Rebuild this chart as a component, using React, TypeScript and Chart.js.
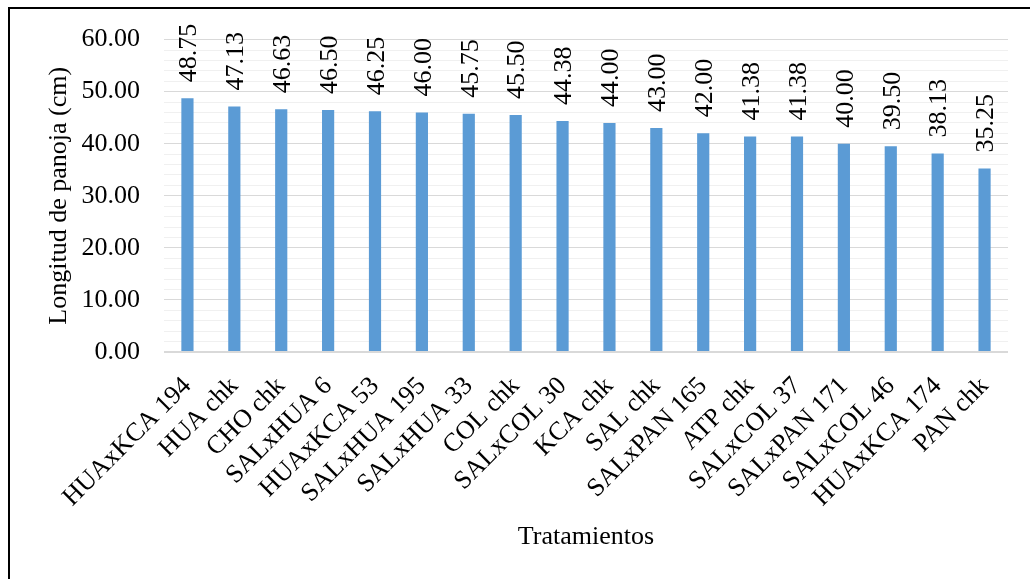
import React, { useEffect, useRef } from "react";
import { Chart, registerables } from "chart.js";

Chart.register(...registerables);

// Treatments, in the order they are plotted
const treatments = [
  "HUAxKCA 194",
  "HUA chk",
  "CHO chk",
  "SALxHUA 6",
  "HUAxKCA 53",
  "SALxHUA 195",
  "SALxHUA 33",
  "COL chk",
  "SALxCOL 30",
  "KCA chk",
  "SAL chk",
  "SALxPAN 165",
  "ATP chk",
  "SALxCOL 37",
  "SALxPAN 171",
  "SALxCOL 46",
  "HUAxKCA 174",
  "PAN chk",
];

// Panicle length (cm) per treatment
const panicleLength = [
  48.75, 47.13, 46.63, 46.5, 46.25, 46.0, 45.75, 45.5, 44.38, 44.0, 43.0, 42.0,
  41.38, 41.38, 40.0, 39.5, 38.13, 35.25,
];

// Value axis range and gridline steps
const yMin = 0;
const yMax = 60;
const minorStep = 2;
const majorStep = 10;

const yTitle = "Longitud de panoja (cm)";
const xTitle = "Tratamientos";

const W = 1030;
const H = 579;
const SERIF = "'Liberation Serif', 'Times New Roman', Times, serif";
const BAR_COLOR = "#5B9BD5";

// White page with a black frame on the left and top edges
const framePlugin = {
  id: "frame",
  beforeDraw(chart: any) {
    const { ctx } = chart;
    ctx.save();
    ctx.fillStyle = "#ffffff";
    ctx.fillRect(0, 0, chart.width, chart.height);
    ctx.fillStyle = "#000000";
    ctx.fillRect(8, 7, chart.width - 8, 2);
    ctx.fillRect(8, 7, 2, chart.height - 7);
    ctx.restore();
  },
};

// Vertical value labels above each bar
const valueLabelPlugin = {
  id: "valueLabels",
  afterDatasetsDraw(chart: any) {
    const { ctx } = chart;
    const meta = chart.getDatasetMeta(0);
    const values = chart.data.datasets[0].data as number[];
    ctx.save();
    ctx.fillStyle = "#000000";
    ctx.font = `26px ${SERIF}`;
    ctx.textAlign = "left";
    ctx.textBaseline = "middle";
    meta.data.forEach((bar: any, i: number) => {
      ctx.save();
      ctx.translate(bar.x + 2, bar.y - 16);
      ctx.rotate(-Math.PI / 2);
      ctx.fillText(values[i].toFixed(2), 0, 0);
      ctx.restore();
    });
    ctx.restore();
  },
};

export default function App() {
  const canvasRef = useRef<HTMLCanvasElement | null>(null);

  useEffect(() => {
    const canvas = canvasRef.current;
    if (!canvas) return;
    const chart = new Chart(canvas, {
      type: "bar",
      data: {
        labels: treatments,
        datasets: [
          {
            data: panicleLength,
            backgroundColor: BAR_COLOR,
            borderWidth: 0,
            categoryPercentage: 1,
            barPercentage: 0.26,
          },
        ],
      },
      options: {
        responsive: false,
        animation: false,
        devicePixelRatio: 1,
        layout: { padding: { top: 38, right: 22, bottom: 0, left: 0 } },
        plugins: {
          legend: { display: false },
          tooltip: { enabled: false },
          title: { display: false },
        },
        scales: {
          x: {
            grid: { display: false },
            border: { display: false },
            ticks: {
              color: "#000",
              font: { family: SERIF, size: 26 },
              minRotation: 45,
              maxRotation: 45,
              autoSkip: false,
              padding: 11,
            },
            title: {
              display: true,
              text: xTitle,
              color: "#000",
              font: { family: SERIF, size: 26 },
              padding: { top: 0, bottom: 26 },
            },
            afterFit(scale: any) {
              scale.height = 227;
            },
          },
          y: {
            min: yMin,
            max: yMax,
            border: { display: false },
            grid: {
              drawTicks: false,
              color: (c: any) =>
                c.tick && c.tick.value % majorStep === 0 ? "#D9D9D9" : "#F0F0F0",
              lineWidth: (c: any) => (c.tick && c.tick.value === 0 ? 2 : 1),
            },
            ticks: {
              stepSize: minorStep,
              autoSkip: false,
              color: "#000",
              font: { family: SERIF, size: 26 },
              padding: 24,
              callback: (v: any) =>
                Number(v) % majorStep === 0 ? Number(v).toFixed(2) : "",
            },
            title: {
              display: true,
              text: yTitle,
              color: "#000",
              font: { family: SERIF, size: 26 },
              padding: { top: 44, bottom: 0 },
            },
            afterFit(scale: any) {
              scale.width = 164;
            },
          },
        },
      },
      plugins: [framePlugin, valueLabelPlugin],
    });
    return () => chart.destroy();
  }, []);

  return (
    <div style={{ position: "fixed", left: 0, top: 0, width: W, height: H, overflow: "hidden" }}>
      <canvas ref={canvasRef} width={W} height={H} style={{ display: "block" }} />
    </div>
  );
}
